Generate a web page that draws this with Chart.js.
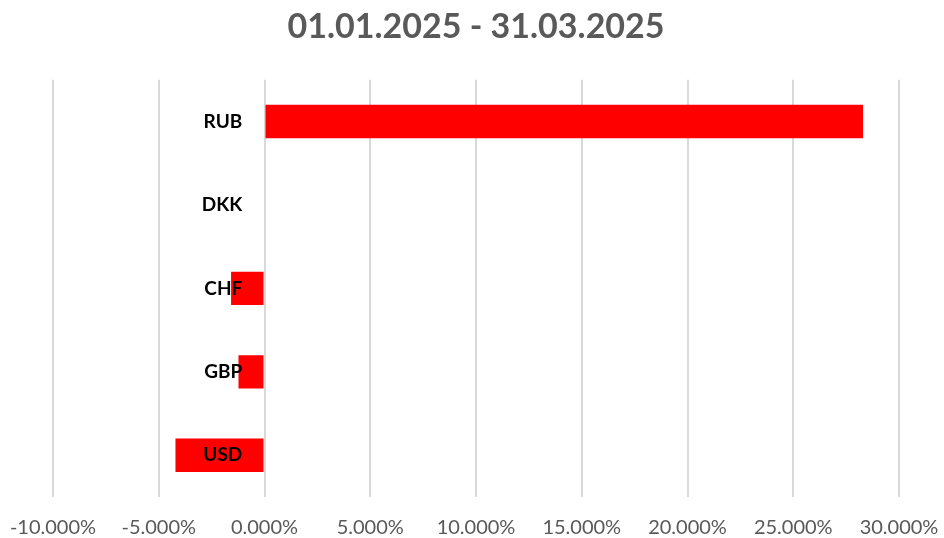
<!DOCTYPE html>
<html>
<head>
  <meta charset="UTF-8">
  <title>01.01.2025 - 31.03.2025</title>
  <script src="https://cdn.jsdelivr.net/npm/chart.js"></script>
  <style>
    html, body { margin: 0; padding: 0; background: #fff; }
    #wrap { width: 944px; height: 538px; }
  </style>
</head>
<body>
  <div id="wrap"><canvas id="fx"></canvas></div>

  <script>
    // currency change over the quarter, in percent
    const currencies = ['RUB', 'DKK', 'CHF', 'GBP', 'USD'];
    const changes = [28.3, 0, -1.58, -1.23, -4.21];
    const xMin = -10, xMax = 30, xStep = 5;

    new Chart(document.getElementById('fx'), {
      type: 'bar',
      data: {
        labels: currencies,
        datasets: [{
          data: changes,
          backgroundColor: '#ff0000',
          borderWidth: 0,
          barPercentage: 0.8,
          categoryPercentage: 0.5
        }]
      },
      options: {
        indexAxis: 'y',
        responsive: true,
        maintainAspectRatio: false,
        animation: false,
        layout: { padding: { left: 53, right: 45, top: 0, bottom: 0 } },
        plugins: {
          legend: { display: false },
          tooltip: { enabled: false },
          title: {
            display: true,
            text: '01.01.2025 - 31.03.2025',
            color: '#595959',
            font: { family: 'Lato', size: 34, weight: 'bold' },
            padding: { top: 7, bottom: 32 }
          }
        },
        scales: {
          x: {
            min: xMin,
            max: xMax,
            border: { display: false },
            grid: { color: '#d9d9d9', lineWidth: 2, drawTicks: false },
            ticks: {
              stepSize: xStep,
              padding: 19,
              color: '#595959',
              font: { family: 'Lato', size: 20 },
              callback: v => v.toFixed(3) + '%'
            },
            // fixed axis band; edge labels may hang into the page margin
            afterFit: s => {
              s.paddingLeft = 0;
              s.paddingRight = 0;
              s.height = 41;
            }
          },
          y: {
            // category names sit just left of the zero line, over the bars
            position: { x: -1.05 },
            border: { display: false },
            grid: { display: false },
            ticks: {
              z: 1,
              color: '#000',
              font: { family: 'Lato', size: 19, weight: 'bold' }
            }
          }
        }
      }
    });
  </script>
</body>
</html>
